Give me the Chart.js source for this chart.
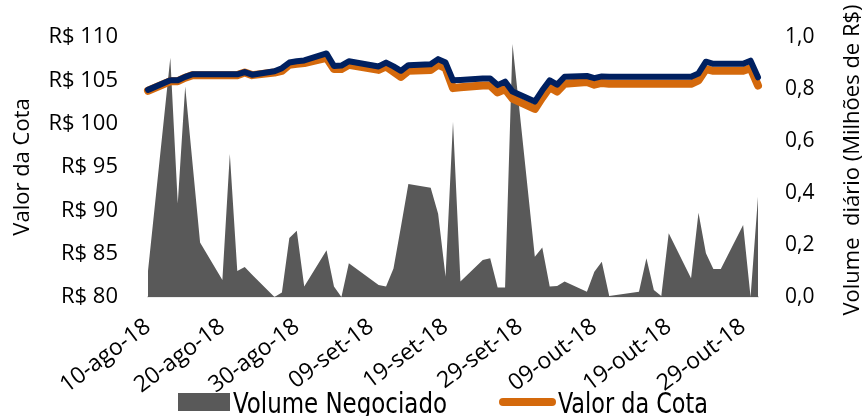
<!DOCTYPE html>
<html>
<head>
<meta charset="utf-8">
<script src="https://cdn.jsdelivr.net/npm/chart.js@4.4.0/dist/chart.umd.min.js"></script>
<style>
  html, body { margin: 0; padding: 0; background: #fff; }
  #wrap { width: 868px; height: 416px; position: relative; }
</style>
</head>
<body>
<div id="wrap"><canvas id="myChart"></canvas></div>
<script>
// pregões de 10-ago-18 a 31-out-18 (sem 07-set e 12-out)
var datas = [
  '2018-08-10', '2018-08-13', '2018-08-14', '2018-08-15', '2018-08-16', '2018-08-17',
  '2018-08-20', '2018-08-21', '2018-08-22', '2018-08-23', '2018-08-24',
  '2018-08-27', '2018-08-28', '2018-08-29', '2018-08-30', '2018-08-31',
  '2018-09-03', '2018-09-04', '2018-09-05', '2018-09-06',
  '2018-09-10', '2018-09-11', '2018-09-12', '2018-09-13', '2018-09-14',
  '2018-09-17', '2018-09-18', '2018-09-19', '2018-09-20', '2018-09-21',
  '2018-09-24', '2018-09-25', '2018-09-26', '2018-09-27', '2018-09-28',
  '2018-10-01', '2018-10-02', '2018-10-03', '2018-10-04', '2018-10-05',
  '2018-10-08', '2018-10-09', '2018-10-10', '2018-10-11',
  '2018-10-15', '2018-10-16', '2018-10-17', '2018-10-18', '2018-10-19',
  '2018-10-22', '2018-10-23', '2018-10-24', '2018-10-25', '2018-10-26',
  '2018-10-29', '2018-10-30', '2018-10-31'
];

// volume diário negociado (milhões de R$)
var volume = [
  0.10, 0.92, 0.36, 0.81, 0.51, 0.21,
  0.065, 0.55, 0.10, 0.115, 0.086,
  0.0, 0.017, 0.227, 0.255, 0.04,
  0.18, 0.04, 0.0, 0.13,
  0.046, 0.04, 0.11, 0.27, 0.435,
  0.42, 0.32, 0.078, 0.674, 0.06,
  0.142, 0.149, 0.037, 0.037, 0.973,
  0.155, 0.19, 0.04, 0.042, 0.06,
  0.02, 0.097, 0.136, 0.004,
  0.02, 0.149, 0.027, 0.004, 0.245,
  0.072, 0.324, 0.168, 0.108, 0.108,
  0.277, 0.0, 0.386
];

// valor da cota (R$) - linha laranja
var valorCota = [
  103.8, 104.9, 104.9, 105.3, 105.6, 105.6,
  105.6, 105.6, 105.6, 105.9, 105.6,
  105.9, 106.1, 106.8, 106.9, 107.0,
  107.6, 106.3, 106.3, 106.8,
  106.2, 106.6, 106.0, 105.4, 106.1,
  106.2, 106.8, 106.4, 104.1, 104.2,
  104.4, 104.4, 103.6, 104.0, 102.9,
  101.7, 103.0, 104.2, 103.7, 104.6,
  104.8, 104.5, 104.7, 104.6,
  104.6, 104.6, 104.6, 104.6, 104.6,
  104.6, 105.0, 106.3, 106.1, 106.1,
  106.1, 106.4, 104.4
];

// linha azul escura por cima da laranja
var valorCotaAzul = [
  103.9, 105.0, 105.0, 105.4, 105.7, 105.7,
  105.7, 105.7, 105.7, 105.95, 105.65,
  106.05, 106.4, 107.05, 107.2, 107.3,
  108.1, 106.65, 106.7, 107.2,
  106.6, 107.05, 106.6, 106.1, 106.75,
  106.85, 107.45, 107.05, 105.0, 105.05,
  105.2, 105.2, 104.45, 104.85, 103.7,
  102.55, 103.85, 105.0, 104.5, 105.42,
  105.5, 105.25, 105.45, 105.42,
  105.42, 105.42, 105.42, 105.42, 105.42,
  105.42, 105.8, 107.15, 106.9, 106.9,
  106.9, 107.27, 105.35
];

var tickLabels = ['10-ago-18', '20-ago-18', '30-ago-18', '09-set-18', '19-set-18',
  '29-set-18', '09-out-18', '19-out-18', '29-out-18'];

var inicio = Date.UTC(2018, 7, 10);
function dia(d) {
  var p = d.split('-');
  return Math.round((Date.UTC(+p[0], +p[1] - 1, +p[2]) - inicio) / 86400000);
}
function pontos(valores) {
  return datas.map(function (d, i) { return { x: dia(d), y: valores[i] }; });
}

var fonte = "'Open Sans', 'DejaVu Sans', sans-serif";
var fonteLegenda = "'DejaVu Sans Condensed', 'Open Sans', sans-serif";
Chart.defaults.font.family = fonte;
Chart.defaults.color = '#000';

// texto da legenda espremido até a largura desejada
function textoLegenda(ctx, txt, x, y, largura) {
  var w = ctx.measureText(txt).width;
  ctx.save();
  ctx.translate(x, y);
  ctx.scale(largura / w, 1);
  ctx.fillText(txt, 0, 0);
  ctx.restore();
}

// título do eixo direito e legenda desenhados à mão
var extras = {
  id: 'extras',
  afterDraw: function (chart) {
    var ctx = chart.ctx;
    ctx.save();
    ctx.fillStyle = '#000';
    ctx.font = '22px ' + fonte;
    ctx.textAlign = 'center';
    ctx.textBaseline = 'middle';
    ctx.translate(853, 160);
    ctx.rotate(-Math.PI / 2);
    ctx.fillText('Volume  diário (Milhões de R$)', 0, 0);
    ctx.restore();

    ctx.save();
    var ds = chart.data.datasets;
    ctx.fillStyle = ds[2].backgroundColor;
    ctx.fillRect(178, 393, 52, 18);
    ctx.strokeStyle = ds[1].borderColor;
    ctx.lineWidth = 8;
    ctx.lineCap = 'round';
    ctx.beginPath();
    ctx.moveTo(503, 402);
    ctx.lineTo(552, 402);
    ctx.stroke();
    ctx.fillStyle = '#000';
    ctx.font = '28px ' + fonteLegenda;
    ctx.textBaseline = 'alphabetic';
    ctx.textAlign = 'left';
    textoLegenda(ctx, ds[2].label, 233, 413, 214);
    textoLegenda(ctx, ds[1].label, 558, 413, 150);
    ctx.restore();
  }
};

var ctx = document.getElementById('myChart').getContext('2d');
var myChart = new Chart(ctx, {
  type: 'line',
  data: {
    datasets: [{
      label: '',
      data: pontos(valorCotaAzul),
      yAxisID: 'y',
      borderColor: '#002060',
      borderWidth: 6,
      pointRadius: 0,
      tension: 0,
      fill: false,
      borderJoinStyle: 'round',
      borderCapStyle: 'round',
      clip: false
    }, {
      label: 'Valor da Cota',
      data: pontos(valorCota),
      yAxisID: 'y',
      borderColor: '#D4690C',
      borderWidth: 8,
      pointRadius: 0,
      tension: 0,
      fill: false,
      borderJoinStyle: 'round',
      borderCapStyle: 'round',
      clip: false
    }, {
      label: 'Volume Negociado',
      data: pontos(volume),
      yAxisID: 'y1',
      borderWidth: 0,
      borderColor: 'rgba(0,0,0,0)',
      backgroundColor: '#595959',
      pointRadius: 0,
      tension: 0,
      fill: 'origin'
    }]
  },
  options: {
    responsive: true,
    maintainAspectRatio: false,
    animation: false,
    layout: { padding: { top: 37, bottom: 0, left: 0, right: 0 } },
    plugins: {
      legend: { display: false },
      tooltip: { enabled: false }
    },
    scales: {
      x: {
        type: 'linear',
        min: 0,
        max: 82,
        grid: { display: false },
        border: { display: true, color: '#d9d9d9', width: 1.5 },
        ticks: {
          autoSkip: false,
          minRotation: 37,
          maxRotation: 37,
          padding: 8,
          font: { size: 23 },
          callback: function (v) { return tickLabels[v / 10]; }
        },
        afterBuildTicks: function (s) {
          s.ticks = tickLabels.map(function (t, i) { return { value: i * 10 }; });
        },
        afterFit: function (s) { s.height = 119; }
      },
      y: {
        position: 'left',
        min: 80,
        max: 110,
        grid: { display: false },
        border: { display: false },
        ticks: {
          stepSize: 5,
          padding: 22,
          font: { size: 22 },
          callback: function (v) { return 'R$ ' + v; }
        },
        title: {
          display: true,
          text: 'Valor da Cota',
          font: { size: 22 },
          padding: { top: 10, bottom: 0 }
        },
        afterFit: function (s) { s.width = 148; }
      },
      y1: {
        position: 'right',
        min: 0,
        max: 1,
        grid: { display: false },
        border: { display: false },
        ticks: {
          stepSize: 0.2,
          padding: 19,
          font: { size: 21 },
          callback: function (v) { return v.toFixed(1).replace('.', ','); }
        },
        afterFit: function (s) { s.width = 110; }
      }
    }
  },
  plugins: [extras]
});
</script>
</body>
</html>
